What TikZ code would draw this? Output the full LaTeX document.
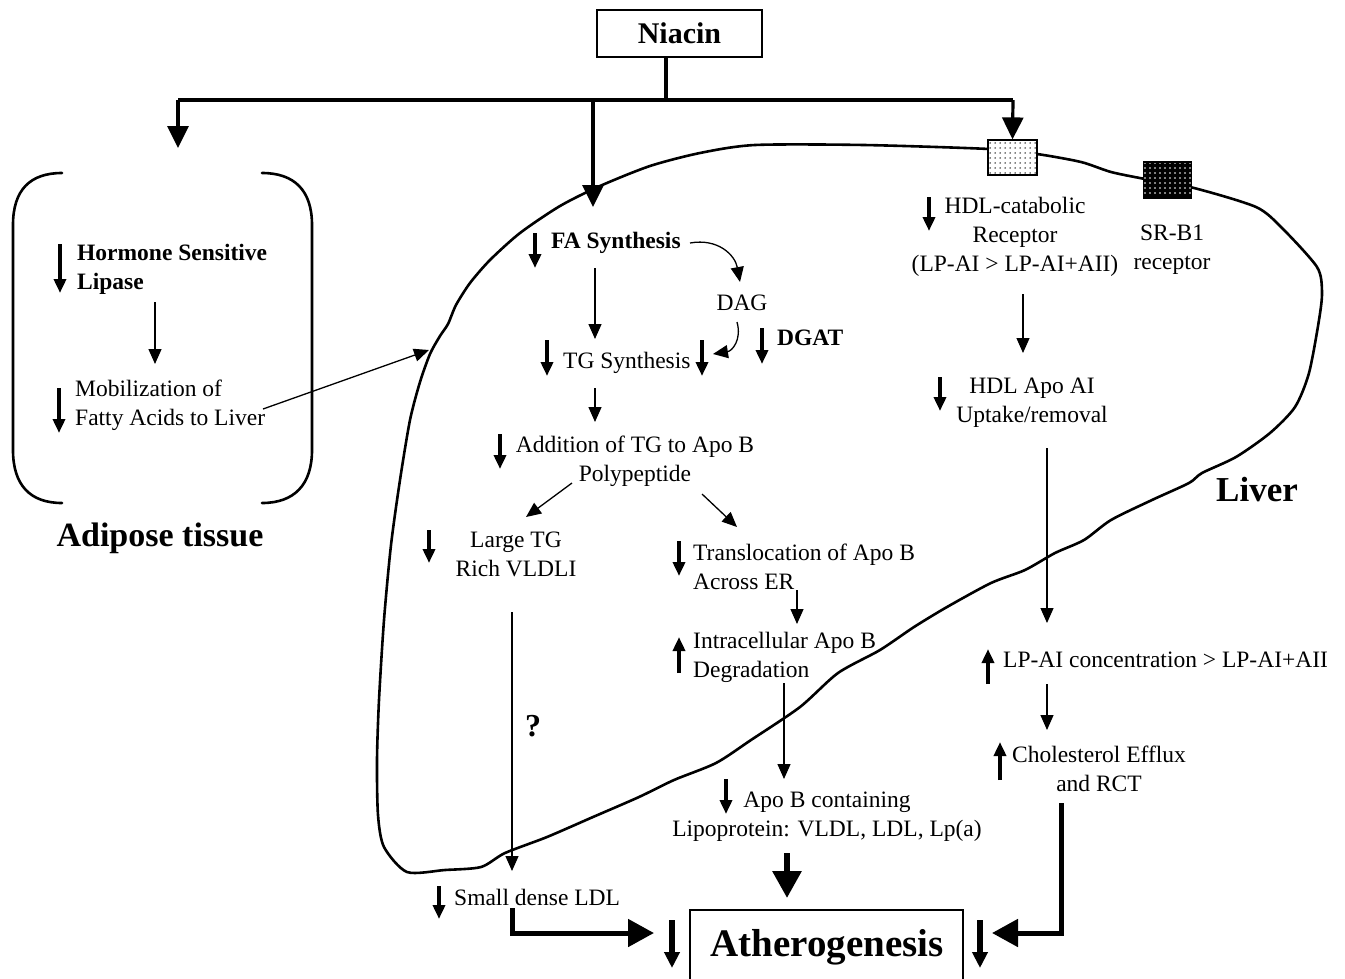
\documentclass[tikz,border=0pt]{standalone}
\usepackage{fontspec}
\setmainfont{Liberation Serif}
\usetikzlibrary{arrows.meta,patterns.meta}
\newcommand\nf{\fontsize{23.5}{29}\selectfont}
\begin{document}
\begin{tikzpicture}[x=1pt,y=-1pt,
  every node/.style={inner sep=0pt, font=\nf},
  bnode/.style={font=\nf\bfseries},
  flow/.style={line width=1.3pt, -{Triangle[length=15pt,width=13pt]}},
  ind/.style={line width=3.6pt, -{Triangle[length=14pt,width=12pt]}},
  bigind/.style={line width=5.5pt, -{Triangle[length=16pt,width=15pt]}},
  branch/.style={line width=3.2pt, -{Triangle[length=22pt,width=21pt]}},
  heavy/.style={line width=6pt, -{Triangle[length=27pt,width=28pt]}},
  elbow/.style={line width=5pt, -{Triangle[length=26pt,width=27pt]}},
  organ/.style={line width=2.6pt, line join=round, line cap=round}
]
\useasboundingbox (0,0) rectangle (1345,978);
\clip (0,0) rectangle (1345,978);

% ---------- Liver outline ----------
\draw[organ] plot[smooth cycle, tension=0.45] coordinates {
 (407,872) (384,847) (378,815) (377,760) (379,700) (384,620)
 (391,545) (400,480) (410,420) (420,382) (430,354) (440,336) (448,324)
 (456,305) (470,283) (490,260) (520,233) (560,206) (600,186) (650,166)
 (700,153) (755,145) (864,145) (989,149) (1037,154) (1081,162) (1111,172)
 (1145,179) (1194,188) (1256,207) (1282,228) (1317,267) (1322,292)
 (1319,320) (1309,373) (1295,407) (1270,433) (1236,457) (1202,473)
 (1189,483) (1152,500) (1111,520) (1084,540) (1055,553) (1025,570)
 (991,583) (947,607) (914,627) (880,650) (838,673) (800,707) (751,740)
 (716,763) (674,780) (639,797) (593,817) (547,837) (505,853) (481,867)
 (445,870)};

% receptors
\node[draw, line width=1.2pt, minimum width=49pt, minimum height=35pt,
      preaction={fill=white}, pattern={Dots[distance=5pt,radius=0.75pt]}]
      (rec1) at (1012.5,157.5) {};
\node[draw, line width=1.2pt, minimum width=48pt, minimum height=36pt,
      preaction={fill=black}, pattern={Dots[distance=5pt,radius=0.8pt]}, pattern color=white]
      (rec2) at (1167.5,180) {};

% ---------- Adipose bracket ----------
\draw[organ] (62,173) .. controls (30,173) and (13,190) .. (13,225) -- (13,450)
  .. controls (13,485) and (30,503) .. (62,503);
\draw[organ] (262,173) .. controls (294,173) and (312,190) .. (312,225) -- (312,450)
  .. controls (312,485) and (294,503) .. (262,503);

% ---------- Niacin ----------
\node[draw, line width=2.4pt, minimum width=165pt, minimum height=47pt,
      font=\fontsize{30}{34}\selectfont\bfseries] (niacin) at (679.5,33.5) {Niacin};
\coordinate (stem) at (666,57);
\coordinate (jn) at (666,100);
\coordinate (bl) at (178,100);
\coordinate (br) at (1013,100);
\coordinate (bm) at (593,100);
\draw[line width=3.2pt] (stem) -- (jn);
\draw[line width=3.2pt] (bl) -- (br);
\draw[branch] (bl) -- (178,148);
\draw[branch] (bm) -- (593,207);
\draw[branch] (br) -- (rec1.north);

% ---------- Adipose texts ----------
\node[bnode, anchor=west, align=left] (hsl) at (77,269) {Hormone Sensitive\\Lipase};
\node[anchor=west, align=left] (mob) at (75,405) {Mobilization of\\Fatty Acids to Liver};
\node[font=\fontsize{34}{38}\selectfont\bfseries] (adipose) at (160,538) {Adipose tissue};
\draw[ind] (60,244) -- (60,293);
\draw[ind] (59,388) -- (59,433);
\coordinate (h1) at (155,302);
\coordinate (h2) at (155,364);
\draw[flow] (h1) -- (h2);
\coordinate (m1) at (263,409);
\coordinate (m2) at (429,350);
\draw[flow] (m1) -- (m2);

% ---------- Liver centre ----------
\node[bnode, anchor=west] (fa) at (551,243) {FA Synthesis};
\node (dag) at (742,303) {DAG};
\node[anchor=west] (tg) at (563,363) {TG Synthesis};
\node[bnode, anchor=west] (dgat) at (777,338) {DGAT};
\node[align=center] (add) at (635,461) {Addition of TG to Apo B\\Polypeptide};
\node[align=center] (large) at (516,554) {Large TG\\Rich VLDLI};
\node[anchor=west, align=left] (trans) at (693,567) {Translocation of Apo B\\Across ER};
\node[anchor=west, align=left] (intra) at (693,657) {Intracellular Apo B\\Degradation};
\node[align=center] (apob) at (827,817) {Apo B containing\\Lipoprotein: VLDL, LDL, Lp(a)};
\node[anchor=west] (sdl) at (454,897) {Small dense LDL};
\node[font=\fontsize{32}{36}\selectfont\bfseries] (q) at (533,726) {?};
\node[draw, line width=2pt, minimum width=273pt, minimum height=110pt, anchor=north] (ath) at (826.5,909) {};
\node[font=\fontsize{39}{44}\selectfont\bfseries] (athtxt) at (827,947) {Atherogenesis};

\draw[ind] (535,233) -- (535,268);
\draw[flow] (690,243) .. controls (718,238) and (735,255) .. (740,282);
\draw[flow] (595,268) -- (595,339);
\draw[flow] (737,322) .. controls (742,340) and (732,351) .. (713,354);
\draw[ind] (547,340) -- (547,376);
\draw[ind] (702,340) -- (702,376);
\draw[ind] (762,328) -- (762,364);
\draw[flow] (595,388) -- (595,422);
\draw[ind] (500,434) -- (500,469);
\draw[flow] (572,483) -- (526,517);
\draw[flow] (702,494) -- (737,527);
\draw[ind] (429,530) -- (429,563);
\draw[flow] (512,612) -- (512,871);
\draw[ind] (679,541) -- (679,576);
\draw[flow] (797,590) -- (797,624);
\draw[ind] (679,673) -- (679,637);
\draw[flow] (784,683) -- (784,779);
\draw[ind] (726,779) -- (726,814);
\draw[heavy] (787,853) -- (787,898);
\draw[ind] (439,886) -- (439,919);
\draw[elbow] (512,908) -- (512,933) -- (654,933);
\draw[bigind] (672,920) -- (672,968);
\draw[bigind] (980,920) -- (980,968);

% ---------- Right side ----------
\node[align=center] (hdlr) at (1015,237) {HDL-catabolic\\Receptor\\(LP-AI > LP-AI+AII)};
\node[align=center] (srb1) at (1172,250) {SR-B1\\receptor};
\node[align=center] (hdlapo) at (1032,403) {HDL Apo AI\\Uptake/removal};
\node[anchor=west] (lpai) at (1003,660) {LP-AI concentration > LP-AI+AII};
\node[align=center] (chol) at (1099,769) {Cholesterol Efflux\\and RCT};
\node[font=\fontsize{35}{40}\selectfont\bfseries] (liver) at (1257,490) {Liver};

\draw[ind] (929,197) -- (929,231);
\draw[flow] (1023,294) -- (1023,353);
\draw[ind] (940,377) -- (940,411);
\draw[flow] (1047,448) -- (1047,623);
\draw[ind] (988,684) -- (988,649);
\draw[flow] (1047,684) -- (1047,730);
\draw[ind] (1000,780) -- (1000,742);
\draw[elbow] (1061,803) -- (1061,933) -- (992,933);
\end{tikzpicture}
\end{document}
